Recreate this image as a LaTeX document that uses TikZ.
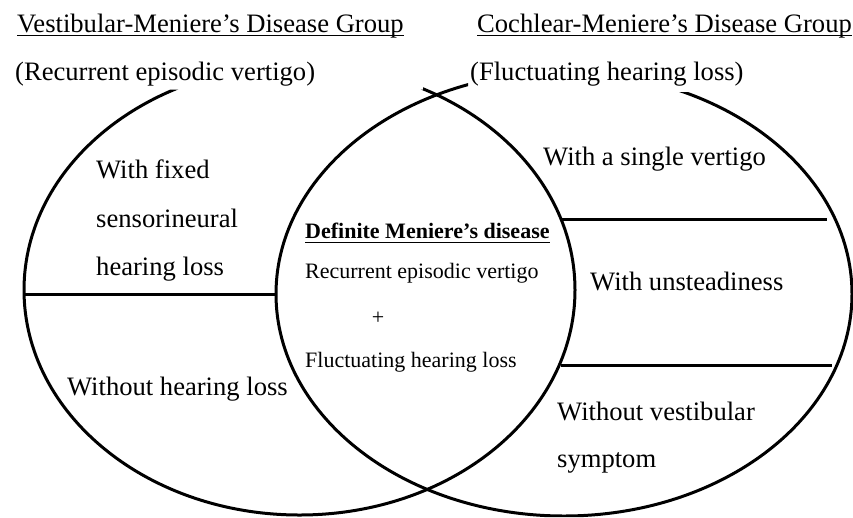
\documentclass[tikz,border=0pt]{standalone}
\usepackage{fontspec}
\setmainfont{Liberation Serif}
\usepackage{tikz}
\usetikzlibrary{
    positioning
}
\tikzset{
    grupo/.style={
        line width=3pt
    },
    division/.style={
        line width=3pt
    },
    subrayado/.style={
        line width=1.6pt
    },
    etiqueta/.style={
        anchor=base west,
        inner sep=0pt,
        font=\fontsize{26.6}{30}\selectfont
    },
    centro/.style={
        anchor=base west,
        inner sep=0pt,
        font=\fontsize{22}{26}\selectfont
    }
}

\begin{document}
\begin{tikzpicture}[
    x=1pt,
    y=-1pt
]
    \useasboundingbox (0,0) rectangle (853,517);

    % Grupos
    \begin{scope}
        \clip (0,89.5) -- (423,89.5) -- (423,83) -- (468,83) -- (468,92)
            -- (853,92) -- (853,517) -- (0,517) -- cycle;
        \draw[grupo] (299.5,290) ellipse [x radius=275.5, y radius=225];
        \draw[grupo] (564,294) ellipse [x radius=288, y radius=222];
    \end{scope}

    % Divisiones
    \draw[division] (24,294) -- (276,294);
    \draw[division] (561,219) -- (827,219);
    \draw[division] (561,365) -- (832,365);

    % Titulos
    \node[etiqueta] (vest)    at (17,32)  {Vestibular-Meniere’s Disease Group};
    \node[etiqueta] (vestsub) at (15,80)  {(Recurrent episodic vertigo)};
    \node[etiqueta] (coch)    at (477,32) {Cochlear-Meniere’s Disease Group};
    \node[etiqueta] (cochsub) at (470,80) {(Fluctuating hearing loss)};
    \draw[subrayado] ([yshift=-3.5pt]vest.base west) -- ([yshift=-3.5pt]vest.base east);
    \draw[subrayado] ([yshift=-3.5pt]coch.base west) -- ([yshift=-3.5pt]coch.base east);

    % Grupo vestibular
    \node[etiqueta] (fijo1) at (96,178) {With fixed};
    \node[etiqueta] (fijo2) at (96,227) {sensorineural};
    \node[etiqueta] (fijo3) at (96,275) {hearing loss};
    \node[etiqueta] (sinhl) at (67,395) {Without hearing loss};

    % Definida
    \node[centro, font=\fontsize{22}{26}\selectfont\bfseries] (def) at (305,238) {Definite Meniere’s disease};
    \draw[subrayado] ([yshift=-4.5pt]def.base west) -- ([yshift=-4.5pt]def.base east);
    \node[centro] (rev)  at (305,278) {Recurrent episodic vertigo};
    \node[centro, anchor=center] (mas) at (378,318) {+};
    \node[centro] (fhl)  at (305,367) {Fluctuating hearing loss};

    % Grupo coclear
    \node[etiqueta] (unico)  at (543,165) {With a single vertigo};
    \node[etiqueta] (inest)  at (590,290) {With unsteadiness};
    \node[etiqueta] (sinves) at (557,420) {Without vestibular};
    \node[etiqueta] (sint)   at (557,467) {symptom};

\end{tikzpicture}
\end{document}
